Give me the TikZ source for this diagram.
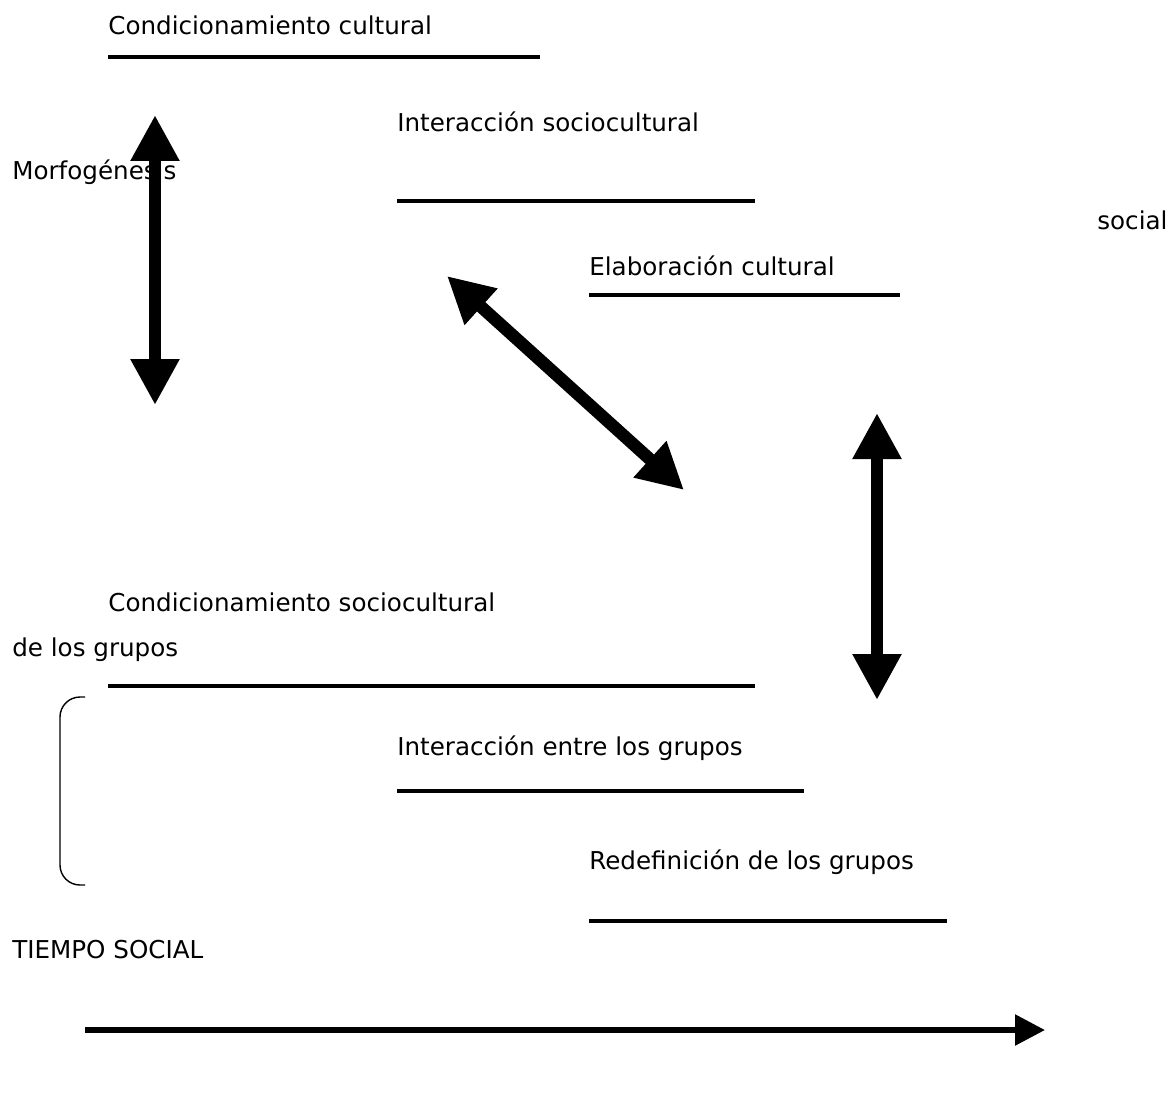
\documentclass[tikz,border=0pt]{standalone}
\usepackage{fontspec}
\setmainfont{DejaVu Sans}
\usepackage{tikz}
\usetikzlibrary{arrows.meta,positioning}

\begin{document}
\begin{tikzpicture}[
		x=0.02cm, y=-0.02cm,
		label/.style={
			anchor=west,
			inner sep=0pt,
			font=\fontsize{14}{17}\selectfont
		},
		rule/.style={
			line width=0.095cm
		},
		twoway/.style={
			{Triangle[length=0.92cm,width=0.92cm]}-{Triangle[length=0.92cm,width=0.92cm]},
			line width=0.25cm
		},
		timearrow/.style={
			-{Triangle[length=0.6cm,width=0.6cm]},
			line width=0.11cm
		}
		]
		
		\useasboundingbox (0,0) rectangle (1173,1100);
		
		% cultural level
		\node[label] (condcult) at (108,25) {Condicionamiento cultural};
		\draw[rule] (108,57) -- (540,57);
		
		\node[label] (intersc) at (397,122) {Interacción sociocultural};
		\draw[rule] (397,201) -- (755,201);
		
		\node[label] (elabcult) at (589,266) {Elaboración cultural};
		\draw[rule] (589,295) -- (900,295);
		
		\node[label] (morfo) at (12,172) {Morfogénesis};
		\node[label] (social) at (1097,220) {social};
		
		% group level
		\node[label] (condgrp) at (108,602) {Condicionamiento sociocultural};
		\node[label] (delos) at (12,650) {de los grupos};
		\draw[rule] (108,686) -- (755,686);
		
		\node[label] (intergrp) at (397,748) {Interacción entre los grupos};
		\draw[rule] (397,791) -- (804,791);
		
		\node[label] (redef) at (589,862) {Redefinición de los grupos};
		\draw[rule] (589,921) -- (947,921);
		
		\node[label] (tiempo) at (12,950) {TIEMPO SOCIAL};
		
		% arrow ends
		\coordinate (ltop) at (155,115);
		\coordinate (lbot) at (155,405);
		\coordinate (dtop) at (447,276);
		\coordinate (dbot) at (684,490);
		\coordinate (rtop) at (877,413);
		\coordinate (rbot) at (877,700);
		\coordinate (tstart) at (85,1030);
		\coordinate (tend) at (1045,1030);
		
		\draw[twoway] (ltop) -- (lbot);
		\draw[twoway] (dtop) -- (dbot);
		\draw[twoway] (rtop) -- (rbot);
		\draw[timearrow] (tstart) -- (tend);
		
		% bracket
		\draw[line width=0.8pt, rounded corners=0.4cm] (85,697) -- (60,697) -- (60,885) -- (85,885);
		
	\end{tikzpicture}
\end{document}
